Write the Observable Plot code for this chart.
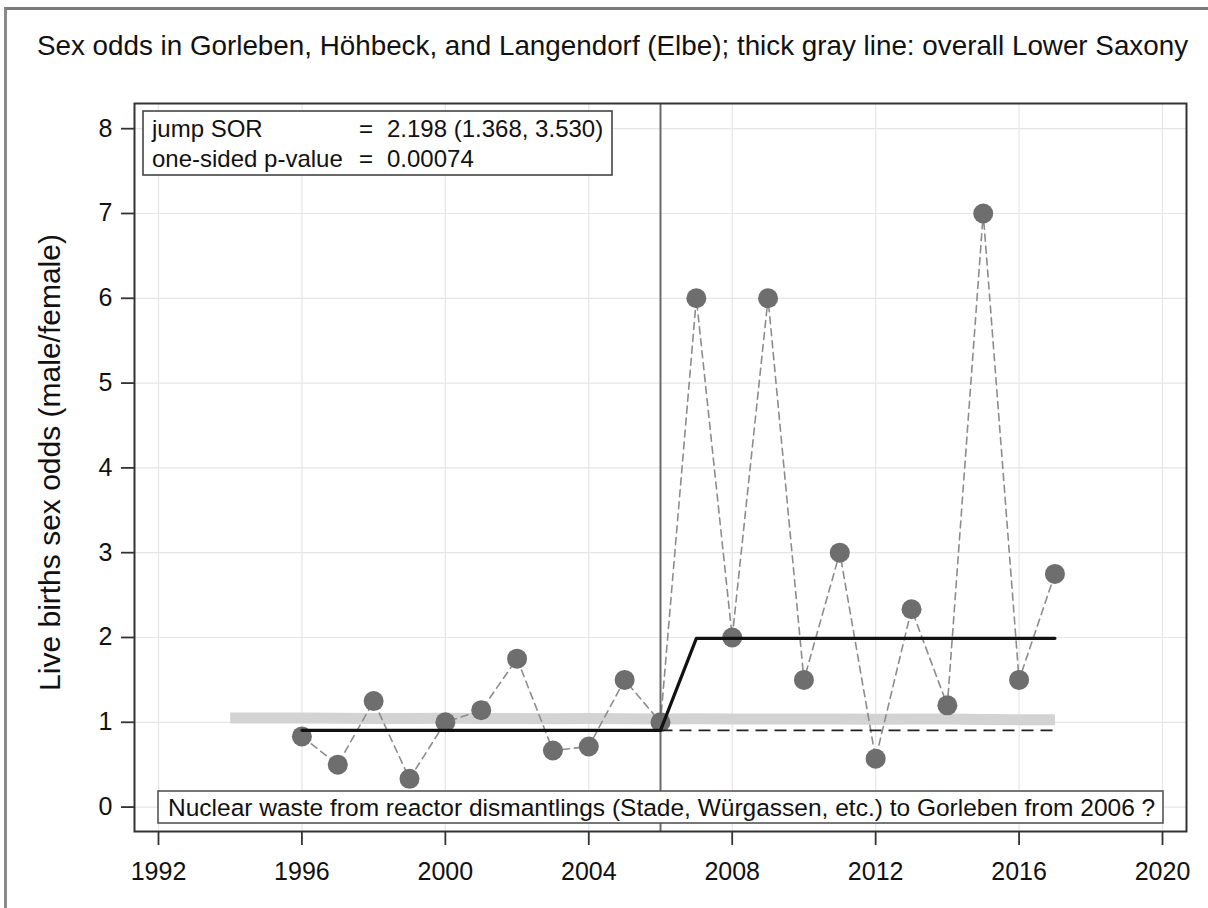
<!DOCTYPE html>
<html>
<head>
<meta charset="utf-8">
<script src="https://cdn.jsdelivr.net/npm/d3@7"></script>
<script src="https://cdn.jsdelivr.net/npm/@observablehq/plot@0.6"></script>
<style>
  html, body { margin: 0; padding: 0; background: white; overflow: hidden; }
  #wrap { position: relative; width: 1208px; height: 908px; }
  #border { position: absolute; left: 4px; top: 7px; width: 3000px; height: 3000px;
            border-top: 3px solid #7a7a7a; border-left: 3px solid #8a8a8a; pointer-events: none; }
</style>
</head>
<body>
<div id="wrap"><div id="border"></div></div>
<script>
// ---- data ----
const years = [1996,1997,1998,1999,2000,2001,2002,2003,2004,2005,2006,2007,2008,2009,2010,2011,2012,2013,2014,2015,2016,2017];
const sexOdds = [0.833,0.5,1.25,0.333,1.0,1.143,1.75,0.667,0.714,1.5,1.0,6.0,2.0,6.0,1.5,3.0,0.571,2.333,1.2,7.0,1.5,2.75];

const lsYears = [1994,1995,1996,1997,1998,1999,2000,2001,2002,2003,2004,2005,2006,2007,2008,2009,2010,2011,2012,2013,2014,2015,2016,2017];
const lsOdds = [1.05,1.05,1.05,1.048,1.046,1.045,1.047,1.044,1.045,1.043,1.044,1.042,1.04,1.041,1.04,1.038,1.04,1.039,1.037,1.04,1.038,1.033,1.03,1.03];

const fitYears = [1996, 2006, 2007, 2017];
const fitOdds = [0.905, 0.905, 1.99, 1.99];
const refYears = [2006, 2017];
const refOdds = [0.905, 0.905];
const breakYears = [2006];

const xTicks = [1992,1996,2000,2004,2008,2012,2016,2020];
const yTicks = [0,1,2,3,4,5,6,7,8];

const titleText = "Sex odds in Gorleben, Höhbeck, and Langendorf (Elbe); thick gray line: overall Lower Saxony";
const yLabel = "Live births sex odds (male/female)";
const statLabels = ["jump SOR", "one-sided p-value"];
const statValues = ["2.198 (1.368, 3.530)", "0.00074"];
const noteText = "Nuclear waste from reactor dismantlings (Stade, Würgassen, etc.) to Gorleben from 2006 ?";

// ---- tables ----
const pts = years.map((y, i) => ({year: y, odds: sexOdds[i]}));
const ls = lsYears.map((y, i) => ({year: y, odds: lsOdds[i]}));
const fit = fitYears.map((y, i) => ({year: y, odds: fitOdds[i]}));
const ref = refYears.map((y, i) => ({year: y, odds: refOdds[i]}));

const FONT = "'Liberation Sans', Arial, Helvetica, sans-serif";

function statBox(index, scales, values, dims) {
  const g = d3.create("svg:g").attr("font-family", FONT).attr("font-size", 24)
    .attr("fill", "#111").attr("text-anchor", "start");
  const x0 = dims.marginLeft + 9, y0 = dims.marginTop + 8;
  g.append("rect").attr("x", x0).attr("y", y0).attr("width", 469).attr("height", 64)
    .attr("fill", "white").attr("stroke", "#444").attr("stroke-width", 1.6);
  statLabels.forEach((t, i) => {
    const by = y0 + 26 + i * 30;
    g.append("text").attr("x", x0 + 9).attr("y", by).attr("text-anchor", "start").text(t);
    g.append("text").attr("x", x0 + 216).attr("y", by).attr("text-anchor", "start").text("=");
    g.append("text").attr("x", x0 + 244).attr("y", by).attr("text-anchor", "start").text(statValues[i]);
  });
  return g.node();
}

function noteBox(index, scales, values, dims) {
  const g = d3.create("svg:g").attr("font-family", FONT).attr("font-size", 24.5)
    .attr("fill", "#111").attr("text-anchor", "start");
  const x0 = dims.marginLeft + 24, y0 = dims.height - dims.marginBottom - 40;
  g.append("rect").attr("x", x0).attr("y", y0).attr("width", 1005).attr("height", 32)
    .attr("fill", "white").attr("stroke", "#555").attr("stroke-width", 1.6);
  g.append("text").attr("x", x0 + 10).attr("y", y0 + 25).attr("text-anchor", "start").text(noteText);
  return g.node();
}

const chart = Plot.plot({
  width: 1208,
  height: 908,
  marginLeft: 134,
  marginRight: 22,
  marginTop: 103,
  marginBottom: 77,
  style: {background: "transparent", fontFamily: FONT, color: "#111"},
  x: {domain: [1991.331, 2020.669]},
  y: {domain: [-0.288, 8.297]},
  marks: [
    Plot.gridX(xTicks, {stroke: "#e6e6e6", strokeOpacity: 1, strokeWidth: 1.2}),
    Plot.gridY(yTicks, {stroke: "#e6e6e6", strokeOpacity: 1, strokeWidth: 1.2}),
    Plot.line(ls, {x: "year", y: "odds", stroke: "#d3d3d3", strokeWidth: 11, strokeLinecap: "butt", strokeLinejoin: "round"}),
    Plot.line(pts, {x: "year", y: "odds", stroke: "#8c8c8c", strokeWidth: 1.6, strokeDasharray: "7,5"}),
    Plot.dot(pts, {x: "year", y: "odds", r: 10, fill: "#6e6e6e", stroke: "none"}),
    Plot.ruleX(breakYears, {stroke: "#6a6a6a", strokeWidth: 2}),
    Plot.line(ref, {x: "year", y: "odds", stroke: "#222", strokeWidth: 1.8, strokeDasharray: "12,7", strokeLinecap: "butt"}),
    Plot.line(fit, {x: "year", y: "odds", stroke: "#111", strokeWidth: 3.2}),
    statBox,
    noteBox,
    Plot.frame({stroke: "#333", strokeWidth: 2}),
    Plot.axisX(xTicks, {tickSize: 14, tickPadding: 17, fontSize: 25, tickFormat: d => String(d), stroke: "#333", strokeWidth: 1.8, label: null}),
    Plot.axisY(yTicks, {tickSize: 13, tickPadding: 9, fontSize: 25, tickFormat: d => String(d), stroke: "#333", strokeWidth: 1.8, label: null}),
    Plot.text([titleText], {frameAnchor: "top-left", dx: 612 - 134, dy: -57, text: d => d, fontSize: 27.8, textAnchor: "middle", lineAnchor: "middle", fill: "#111"}),
    Plot.text([yLabel], {frameAnchor: "left", dx: 50 - 134, dy: -5, text: d => d, fontSize: 30, rotate: -90, textAnchor: "middle", lineAnchor: "middle", fill: "#111"})
  ]
});
document.getElementById("wrap").prepend(chart);
</script>
</body>
</html>
